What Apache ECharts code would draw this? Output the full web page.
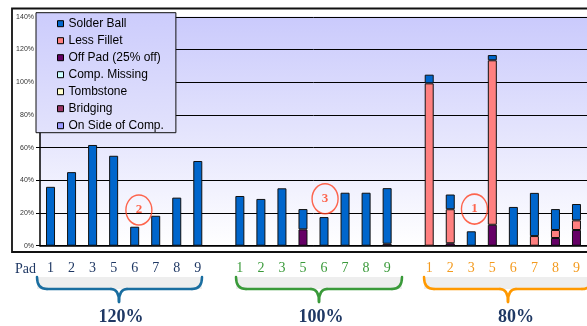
<!DOCTYPE html>
<html>
<head>
  <meta charset="utf-8">
  <script src="https://cdn.jsdelivr.net/npm/echarts@6/dist/echarts.min.js"></script>
  <style>
    html, body { margin: 0; padding: 0; background: #fff; }
    #main { width: 587px; height: 326px; }
  </style>
  <title>Solder defects by aperture</title>
  <script type="text/javascript">
    // pad labels, one group per stencil aperture size
    const pads = ['1', '2', '3', '5', '6', '7', '8', '9'];
    const groups = ['120%', '100%', '80%'];
    const categories = [...pads, '', ...pads, '', ...pads];

    // defect rates in %, '-' = nothing stacked there
    const solderBall = [36, 45, 61.6, 55, 11.6, 18.3, 29.4, 51.8, '-',
                        30.4, 28.6, 35.1, 12.4, 17.5, 32.4, 32.4, 34, '-',
                        5.3, 9, 8.8, 3.2, 23.7, 26.4, 12.8, 10];
    const lessFillet = ['-', '-', '-', '-', '-', '-', '-', '-', '-',
                        '-', '-', '-', '-', '-', '-', '-', '-', '-',
                        99.3, 20.8, '-', 100.6, '-', 5.9, 4.9, 5.9];
    const offPad = ['-', '-', '-', '-', '-', '-', '-', '-', '-',
                    '-', '-', '-', 10, '-', '-', '-', 1.2, '-',
                    '-', 1.5, '-', 12.8, '-', '-', 4.7, 9.6];
    const compMissing = [];
    const tombstone = [];
    const bridging = [];
    const onSide = [];

    // red circled callouts: [label, x position in category units, y value]
    const callouts = [['2', 4.2, 21.8], ['3', 13.05, 28.7], ['1', 20.15, 22.4]];

    const groupColors = ['#1F3864', '#3A9A3A', '#F39A1E'];
    const braceColors = ['#1A6EA0', '#3A9A3A', '#FF9900'];

    function init() {
      const chart = echarts.init(document.getElementById('main'));
      chart.setOption(makeOption());
    }

    function barSeries(name, data, color) {
      return {
        name: name, type: 'bar', stack: 'defects', data: data,
        barWidth: 9, animation: false,
        itemStyle: { color: color, borderColor: '#111', borderWidth: 1 }
      };
    }

    function brace(x0, x1, xm, color) {
      const yt = 277, yl = 289, yb = 302;
      const line = { stroke: color, lineWidth: 2.5, fill: null, lineCap: 'round' };
      return [
        { type: 'rect', shape: { x: x0, y: yt, width: x1 - x0, height: yl - yt },
          style: { fill: '#EEEEEE' }, silent: true },
        { type: 'bezierCurve', shape: { x1: x0, y1: yt, cpx1: x0, cpy1: yl, x2: x0 + 10, y2: yl }, style: line },
        { type: 'line', shape: { x1: x0 + 10, y1: yl, x2: xm - 8, y2: yl }, style: line },
        { type: 'bezierCurve', shape: { x1: xm - 8, y1: yl, cpx1: xm, cpy1: yl, x2: xm, y2: yb }, style: line },
        { type: 'bezierCurve', shape: { x1: xm, y1: yb, cpx1: xm, cpy1: yl, x2: xm + 8, y2: yl }, style: line },
        { type: 'line', shape: { x1: xm + 8, y1: yl, x2: x1 - 10, y2: yl }, style: line },
        { type: 'bezierCurve', shape: { x1: x1 - 10, y1: yl, cpx1: x1, cpy1: yl, x2: x1, y2: yt }, style: line }
      ];
    }

    function groupText(text, x) {
      return { type: 'text', style: { text: text, x: x, y: 317, textAlign: 'center', textVerticalAlign: 'middle',
               font: 'bold 18px "Liberation Serif"', fill: '#1F3864' } };
    }

    function makeOption() {
      const bg = new echarts.graphic.LinearGradient(0, 0, 0, 1, [
        { offset: 0, color: '#CACAFC' }, { offset: 0.5, color: '#E4E4FD' }, { offset: 1, color: '#FFFFFF' }
      ]);
      const legendBg = new echarts.graphic.LinearGradient(0, 0, 0, 1, [
        { offset: 0, color: '#CCCCFC' }, { offset: 1, color: '#E2E2FC' }
      ]);
      const graphics = [
        { type: 'rect', shape: { x: 12, y: 8.5, width: 600, height: 243.5 },
          style: { fill: null, stroke: '#111', lineWidth: 1.8 }, z: 10, silent: true },
        { type: 'text', style: { text: 'Pad', x: 15, y: 269, textVerticalAlign: 'middle',
          font: '14px "Liberation Serif"', fill: '#1F3864' } },
        ...brace(37, 202, 119, braceColors[0]),
        ...brace(236, 402, 319, braceColors[1]),
        ...brace(424, 592, 508, braceColors[2]),
        groupText(groups[0], 121),
        groupText(groups[1], 321),
        groupText(groups[2], 516)
      ];
      return {
        animation: false,
        textStyle: { fontFamily: 'Liberation Sans' },
        grid: { left: 40, top: 16.8, width: 550, height: 228.9, show: true,
                backgroundColor: bg, borderWidth: 0 },
        legend: {
          orient: 'vertical', left: 36, top: 12.7,
          data: ['Solder Ball', 'Less Fillet', 'Off Pad (25% off)', 'Comp. Missing',
                 'Tombstone', 'Bridging', 'On Side of Comp.'],
          icon: 'rect', itemWidth: 6, itemHeight: 6, itemGap: 5,
          padding: [5, 12, 1, 21],
          backgroundColor: legendBg, borderColor: '#111', borderWidth: 1,
          itemStyle: { borderColor: '#000', borderWidth: 1 },
          textStyle: { fontSize: 12, lineHeight: 12, color: '#000', fontFamily: 'Liberation Sans' }
        },
        xAxis: [{
          type: 'category', data: categories, boundaryGap: true,
          axisLine: { lineStyle: { color: '#000', width: 1.5 } },
          axisTick: { show: false },
          axisLabel: {
            interval: 0, margin: 16, fontSize: 14, fontFamily: 'Liberation Serif',
            color: function (v, i) { return groupColors[Math.min(2, Math.floor(i / 9))]; }
          }
        }, {
          type: 'value', min: -0.5, max: 25.5, show: false
        }],
        yAxis: {
          type: 'value', min: 0, max: 140, interval: 20,
          axisLine: { show: true, onZero: false, lineStyle: { color: '#000', width: 1.5 } },
          axisTick: { show: true, length: 4, lineStyle: { color: '#000' } },
          axisLabel: { formatter: '{value}%', fontSize: 7, color: '#333', margin: 6 },
          splitLine: { lineStyle: { color: '#000', width: 1 } }
        },
        series: [
          barSeries('On Side of Comp.', onSide, '#9999FF'),
          barSeries('Bridging', bridging, '#993366'),
          barSeries('Tombstone', tombstone, '#FFFFCC'),
          barSeries('Comp. Missing', compMissing, '#CCFFFF'),
          barSeries('Off Pad (25% off)', offPad, '#660066'),
          barSeries('Less Fillet', lessFillet, '#FF8080'),
          barSeries('Solder Ball', solderBall, '#0066CC'),
          {
            type: 'scatter', xAxisIndex: 1, z: 5,
            data: callouts.map(c => [c[1], c[2], c[0]]),
            symbol: 'path://M1,0C1.552,0,2,0.448,2,1C2,1.552,1.552,2,1,2C0.448,2,0,1.552,0,1C0,0.448,0.448,0,1,0Z',
            symbolSize: [26, 30],
            itemStyle: { color: 'rgba(0,0,0,0)', borderColor: '#FF4020', borderWidth: 1.5 },
            label: { show: true, position: 'inside', formatter: p => p.value[2],
                     color: '#FF4020', fontSize: 13, fontWeight: 'bold', fontFamily: 'Liberation Serif' }
          }
        ],
        graphic: graphics
      };
    }
  </script>
</head>
<body onload="init()">
  <div id="main"></div>
</body>
</html>
